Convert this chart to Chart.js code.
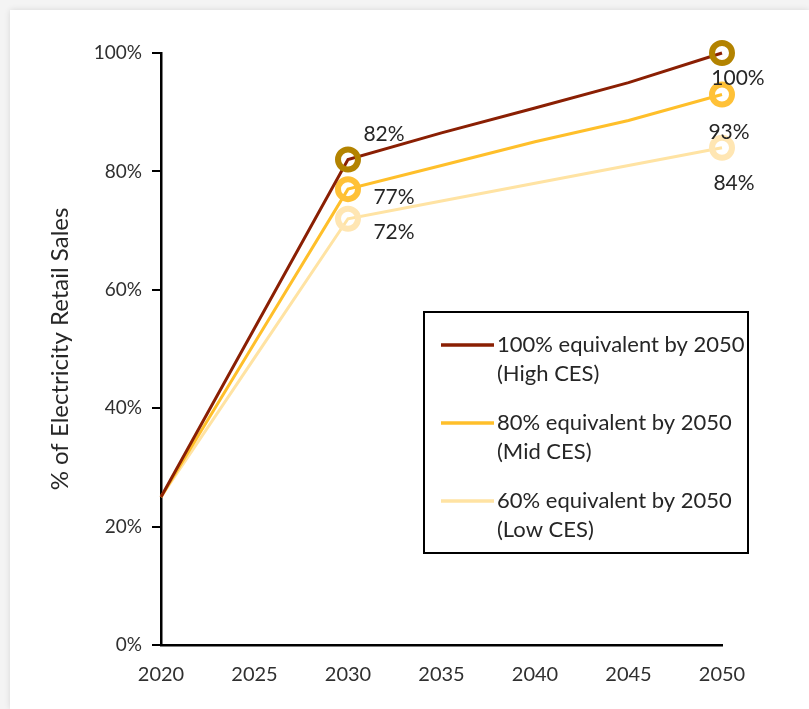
<!DOCTYPE html>
<html>
<head>
<meta charset="utf-8">
<script src="https://cdn.jsdelivr.net/npm/chart.js@4.4.0/dist/chart.umd.min.js"></script>
<style>
  html, body { margin: 0; padding: 0; background: #f4f4f4; }
  #card {
    position: absolute; left: 10px; top: 10px; right: 0; bottom: 0;
    background: #fff; box-shadow: 0 0 6px rgba(0,0,0,0.12);
  }
  #wrap { position: absolute; left: 0; top: 0; width: 809px; height: 709px; }
</style>
</head>
<body>
<div id="card"></div>
<div id="wrap"><canvas id="myChart"></canvas></div>
<script>
// data
const years = [2020, 2025, 2030, 2035, 2040, 2045, 2050];
const highCES = [25, 53.5, 82, 86.5, 90.7, 95, 100];
const midCES = [25, 51, 77, 81, 85, 88.6, 93];
const lowCES = [25, 48.5, 72, 75, 78, 81, 84];
const seriesNames = [
    ['100% equivalent by 2050', '(High CES)'],
    ['80% equivalent by 2050', '(Mid CES)'],
    ['60% equivalent by 2050', '(Low CES)']
];
const markerYears = [2030, 2050];
const xTicks = [2020, 2025, 2030, 2035, 2040, 2045, 2050];
const yTicks = [0, 20, 40, 60, 80, 100];

const FONT = 'Lato, "Noto Sans", sans-serif';

function toPoints(vals) {
    return years.map((y, i) => ({ x: y, y: vals[i] }));
}

// where each value label sits relative to its marker [dx, dy]
const labelOffsets = [
    { 2030: [36, -25], 2050: [16, 25] },
    { 2030: [46, 8], 2050: [7, 38] },
    { 2030: [46, 13], 2050: [12, 36] }
];

const valueLabels = {
    id: 'valueLabels',
    afterDatasetsDraw(chart) {
        const ctx = chart.ctx;
        ctx.save();
        ctx.font = '21px ' + FONT;
        ctx.fillStyle = '#262626';
        ctx.textAlign = 'center';
        ctx.textBaseline = 'middle';
        chart.data.datasets.forEach((ds, di) => {
            const meta = chart.getDatasetMeta(di);
            meta.data.forEach((pt, i) => {
                const yr = years[i];
                if (!markerYears.includes(yr)) return;
                const off = labelOffsets[di][yr];
                ctx.fillText(Math.round(ds.data[i].y) + '%', pt.x + off[0], pt.y + off[1]);
            });
        });
        ctx.restore();
    }
};

const boxLegend = {
    id: 'boxLegend',
    afterDraw(chart) {
        const ctx = chart.ctx;
        const x = 424, y = 312, w = 324, h = 241;
        ctx.save();
        ctx.fillStyle = '#fff';
        ctx.fillRect(x, y, w, h);
        ctx.strokeStyle = '#000';
        ctx.lineWidth = 2;
        ctx.strokeRect(x, y, w, h);
        ctx.font = '22px ' + FONT;
        ctx.textBaseline = 'middle';
        ctx.textAlign = 'left';
        chart.data.datasets.forEach((ds, di) => {
            const ly = y + 33 + di * 78;
            ctx.strokeStyle = ds.borderColor;
            ctx.lineWidth = 3.5;
            ctx.beginPath();
            ctx.moveTo(x + 17, ly);
            ctx.lineTo(x + 70, ly);
            ctx.stroke();
            ctx.fillStyle = '#262626';
            seriesNames[di].forEach((t, li) => {
                ctx.fillText(t, x + 73, ly + li * 29);
            });
        });
        ctx.restore();
    }
};

function makeSet(name, vals, lineColor, markerColor) {
    return {
        label: name,
        data: toPoints(vals),
        borderColor: lineColor,
        borderWidth: 3,
        backgroundColor: 'rgba(255,255,255,0)',
        pointBorderColor: markerColor,
        pointBackgroundColor: 'rgba(255,255,255,0)',
        pointBorderWidth: 6,
        pointRadius: c => markerYears.includes(years[c.dataIndex]) ? 10 : 0,
        pointHoverRadius: c => markerYears.includes(years[c.dataIndex]) ? 10 : 0,
        tension: 0,
        clip: false
    };
}

const ch = document.getElementById('myChart').getContext('2d');

const config = {
    type: 'line',
    data: {
        datasets: [
            makeSet(seriesNames[0].join(' '), highCES, '#8a1f03', '#b38300'),
            makeSet(seriesNames[1].join(' '), midCES, '#ffbf2a', '#ffc137'),
            makeSet(seriesNames[2].join(' '), lowCES, '#ffe3a3', '#ffe6b3')
        ]
    },
    options: {
        responsive: true,
        maintainAspectRatio: false,
        animation: false,
        layout: { padding: { top: 53, right: 87, left: 0, bottom: 0 } },
        plugins: {
            legend: { display: false },
            tooltip: { enabled: false }
        },
        scales: {
            x: {
                type: 'linear',
                min: 2020,
                max: 2050,
                afterBuildTicks: s => { s.ticks = xTicks.map(v => ({ value: v })); },
                ticks: {
                    callback: v => String(v),
                    font: { family: FONT, size: 20 },
                    color: '#303030',
                    padding: 18,
                    maxRotation: 0
                },
                grid: { display: false, drawTicks: false },
                border: { display: true, color: '#000', width: 2.5 },
                afterFit: s => { s.height = 64; }
            },
            y: {
                min: 0,
                max: 100,
                afterBuildTicks: s => { s.ticks = yTicks.map(v => ({ value: v })); },
                ticks: {
                    callback: v => v + '%',
                    font: { family: FONT, size: 19 },
                    color: '#303030',
                    padding: 10
                },
                grid: {
                    display: true,
                    drawOnChartArea: false,
                    drawTicks: true,
                    tickLength: 9,
                    color: '#000',
                    lineWidth: 2
                },
                border: { display: true, color: '#000', width: 2.5 },
                title: {
                    display: true,
                    text: '% of Electricity Retail Sales',
                    font: { family: FONT, size: 24 },
                    color: '#262626',
                    padding: { top: 46, bottom: 0 }
                },
                afterFit: s => { s.width = 161; }
            }
        }
    },
    plugins: [valueLabels, boxLegend]
};

const myChart = new Chart(ch, config);
</script>
</body>
</html>
